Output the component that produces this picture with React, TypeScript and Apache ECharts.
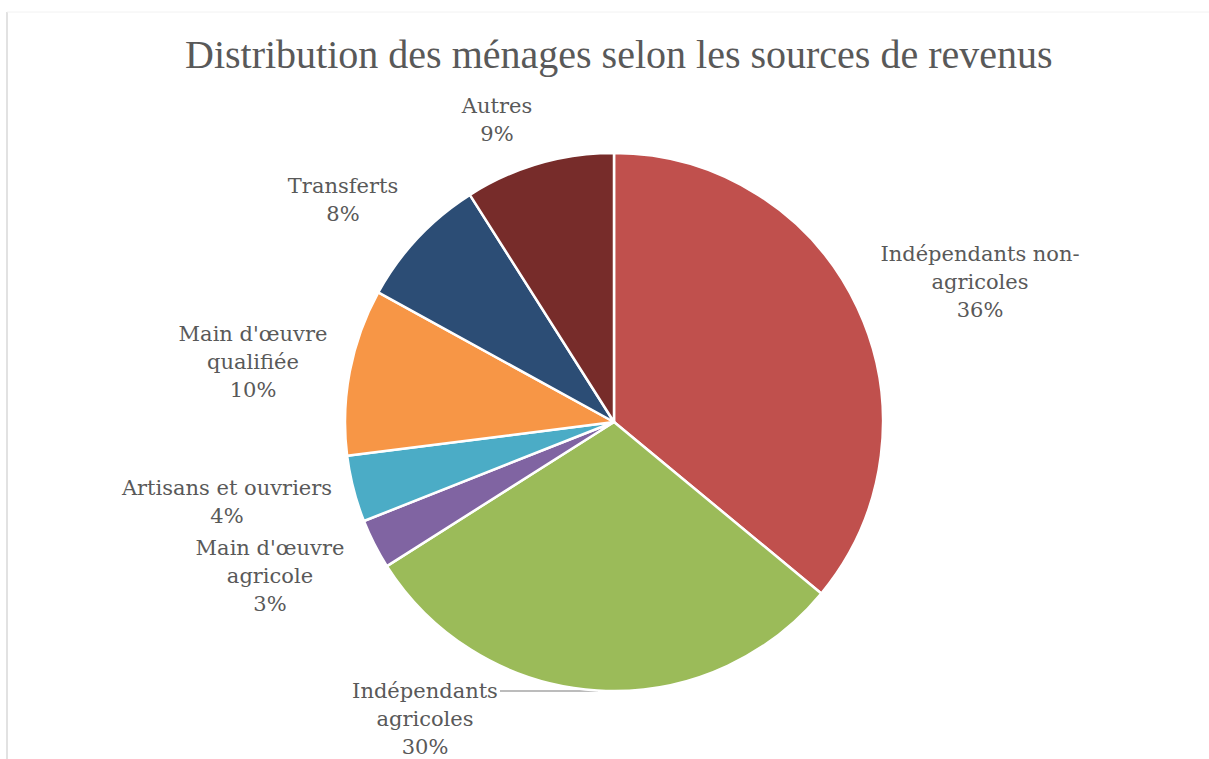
import React, { useEffect, useRef } from "react";
import * as echarts from "echarts";

const titleText = "Distribution des ménages selon les sources de revenus";
const categories = [
  "Indépendants non-\nagricoles",
  "Indépendants\nagricoles",
  "Main d'œuvre\nagricole",
  "Artisans et ouvriers",
  "Main d'œuvre\nqualifiée",
  "Transferts",
  "Autres",
];
const values = [36, 30, 3, 4, 10, 8, 9];
const colors = ["#C0504D", "#9BBB59", "#8064A2", "#4BACC6", "#F79646", "#2C4D75", "#772C2A"];
// label anchor (centre of the text block) in chart pixels
const labelX = [980, 425, 270, 227, 253, 343, 497];
const labelY = [282, 719, 576, 502, 362, 200, 120];

export default function App() {
  const ref = useRef<HTMLDivElement>(null);
  useEffect(() => {
    if (!ref.current) return;
    const chart = echarts.init(ref.current, undefined, { renderer: "svg" });
    const font = "'DejaVu Serif', serif";
    chart.setOption({
      animation: false,
      backgroundColor: "#ffffff",
      title: {
        text: titleText,
        left: 180,
        top: 29,
        textStyle: {
          fontFamily: "'Liberation Serif', serif",
          fontWeight: "normal",
          fontSize: 40,
          color: "#595959",
        },
      },
      graphic: [
        { type: "line", shape: { x1: 7, y1: 12, x2: 7, y2: 759 }, style: { stroke: "#d9d9d9", lineWidth: 1.5 } },
        { type: "line", shape: { x1: 7, y1: 12, x2: 1209, y2: 12 }, style: { stroke: "#f2f2f2", lineWidth: 1 } },
      ],
      series: [
        {
          type: "pie",
          center: [614, 422],
          radius: [0, 269],
          startAngle: 90,
          clockwise: true,
          avoidLabelOverlap: false,
          itemStyle: { borderColor: "#ffffff", borderWidth: 2.5 },
          label: {
            show: true,
            position: "outside",
            fontFamily: font,
            fontSize: 21,
            lineHeight: 28,
            color: "#595959",
            align: "center",
            formatter: (p: any) => `${p.name}\n${p.value}%`,
          },
          labelLine: { show: false },
          labelLayout: (p: any) => {
            const i = p.dataIndex;
            const res: any = { x: labelX[i], y: labelY[i], align: "center", verticalAlign: "middle" };
            if (i === 1) {
              const yl = labelY[i] - 28;
              res.labelLinePoints = [[598, yl], [500, yl], [500, yl]];
            }
            return res;
          },
          data: categories.map((c, i) => ({
            name: c,
            value: values[i],
            itemStyle: { color: colors[i] },
            labelLine: i === 1 ? { show: true, length: 10, length2: 10, lineStyle: { color: "#a6a6a6", width: 1.5 } } : { show: false },
          })),
        },
      ],
    });
    return () => chart.dispose();
  }, []);
  return <div ref={ref} style={{ position: "absolute", left: 0, top: 0, width: 1209, height: 759 }} />;
}
